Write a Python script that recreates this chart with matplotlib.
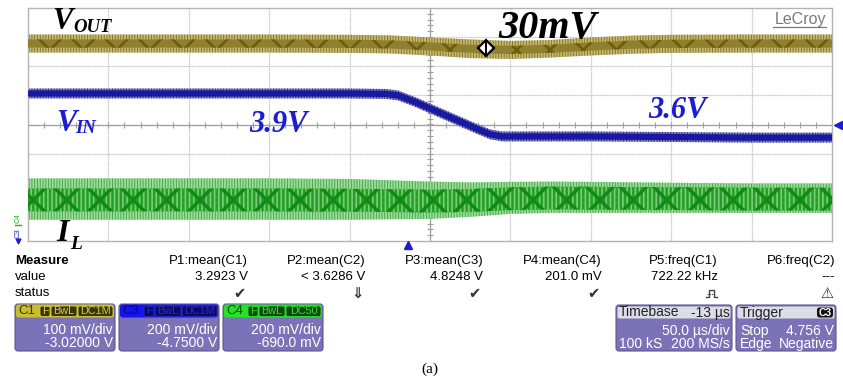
import matplotlib
matplotlib.use("Agg")
import matplotlib.pyplot as plt
from matplotlib.patches import FancyBboxPatch
import numpy as np

# ---------------- data (scope divisions: x 0..10, y -4..4) ----------------
t_vout = [0, 1, 2, 3, 4, 4.5, 5, 5.5, 6, 6.5, 7, 7.5, 8, 9, 10]
vout_hi = [3.09, 3.09, 3.09, 3.09, 3.08, 3.06, 2.99, 2.92, 2.87, 2.90, 2.99, 3.05, 3.08, 3.09, 3.09]
vout_lo = [2.47, 2.47, 2.47, 2.47, 2.46, 2.44, 2.37, 2.28, 2.25, 2.30, 2.37, 2.43, 2.46, 2.47, 2.47]

t_vin = [0, 1, 2, 3, 4, 4.45, 4.6, 4.8, 5.0, 5.2, 5.4, 5.6, 5.75, 5.9, 6, 7, 8, 9, 10]
vin_mid = [1.065, 1.065, 1.065, 1.065, 1.065, 1.05, 1.00, 0.79, 0.55, 0.31, 0.07, -0.17, -0.34,
           -0.41, -0.41, -0.41, -0.43, -0.45, -0.45]
vin_ripple = 0.17

t_il = [0, 1, 2, 3, 4, 5, 5.5, 6, 6.5, 7, 8, 9, 10]
il_hi = [-1.85, -1.85, -1.85, -1.85, -1.87, -1.96, -1.99, -1.97, -1.96, -1.97, -2.0, -2.03, -2.03]
il_lo = [-3.27, -3.27, -3.27, -3.27, -3.27, -3.24, -3.17, -3.07, -3.03, -3.03, -3.03, -3.03, -3.03]

measure_names = ["P1:mean(C1)", "P2:mean(C2)", "P3:mean(C3)", "P4:mean(C4)", "P5:freq(C1)", "P6:freq(C2)"]
measure_values = ["3.2923 V", "< 3.6286 V", "4.8248 V", "201.0 mV", "722.22 kHz", "---"]
measure_status = ["\u2714", "\u21d3", "\u2714", "\u2714", "", "\u26a0"]

channels = ["C1", "C3", "C4"]
channel_coupling = [["F", "BwL", "DC1M"], ["F", "BwL", "DC1M"], ["F", "BwL", "DC50"]]
channel_scale = ["100 mV/div", "200 mV/div", "200 mV/div"]
channel_offset = ["-3.02000 V", "-4.7500 V", "-690.0 mV"]

# ---------------- figure ----------------
W, H = 843, 381
fig = plt.figure(figsize=(W / 100, H / 100), dpi=100)
fig.patch.set_facecolor("white")

L, T, R, B = 28, 8, 832, 241
ax = fig.add_axes([L / W, 1 - B / H, (R - L) / W, (B - T) / H])
ax.set_xlim(0, 10)
ax.set_ylim(-4, 4)
ax.set_xticks([]); ax.set_yticks([])
for s in ax.spines.values():
    s.set_color("#b4b4b4"); s.set_linewidth(1.0)

# grid
for i in range(1, 10):
    ax.axvline(i, color="#cacaca", lw=0.9, ls=(0, (1.2, 0.5)), zorder=0)
for j in range(-3, 4):
    ax.axhline(j, color="#cacaca", lw=0.9, ls=(0, (1.2, 0.5)), zorder=0)
ax.axvline(5, color="#a0a0a0", lw=0.9, zorder=0.5)
ax.axhline(0, color="#a0a0a0", lw=0.9, zorder=0.5)
ax.plot(np.arange(0.2, 10, 0.2), np.zeros(49), ls="none", marker="|", ms=5, mew=0.8, color="#a0a0a0", zorder=0.5)
ax.plot(np.full(39, 5.0), np.arange(-3.8, 4, 0.2), ls="none", marker="_", ms=5, mew=0.8, color="#a0a0a0", zorder=0.5)

# VOUT
plt.rcParams["hatch.linewidth"] = 0.7
vhi, vlo = np.array(vout_hi), np.array(vout_lo)
ax.fill_between(t_vout, vhi, vlo, facecolor="#c4b978", edgecolor="#8a7a20", hatch="||||||", lw=0, zorder=2)
vmid = (vhi + vlo) / 2
plt.rcParams["hatch.linewidth"] = 2.0
ax.fill_between(t_vout, vmid + 0.14, vmid - 0.14, facecolor="#8f8030", edgecolor="#6e5e0c", hatch="x", lw=0, zorder=3)

# VIN
plt.rcParams["hatch.linewidth"] = 0.7
vm = np.array(vin_mid)
ax.fill_between(t_vin, vm + vin_ripple, vm - vin_ripple, facecolor="#8484bc", edgecolor="#30308e", hatch="||||||", lw=0, zorder=2)
ax.plot(t_vin, vm, color="#1818a0", lw=4.5, solid_capstyle="butt", zorder=3)

# IL
ihi, ilo = np.array(il_hi), np.array(il_lo)
ax.fill_between(t_il, ihi, ilo, facecolor="#9edc9e", edgecolor="#45ad45", hatch="||||||", lw=0, zorder=2)
imid = (ihi + ilo) / 2
plt.rcParams["hatch.linewidth"] = 1.2
ax.fill_between(t_il, imid + 0.36, imid - 0.42, facecolor="#23a023", edgecolor="#7ccc7c", hatch="||||", lw=0, zorder=3)
plt.rcParams["hatch.linewidth"] = 2.5
ax.fill_between(t_il, imid + 0.36, imid - 0.42, facecolor="none", edgecolor="#118a16", hatch="x", lw=0, zorder=3.5)

# ---------------- overlay in pixel coordinates ----------------
px = fig.add_axes([0, 0, 1, 1], zorder=5)
px.set_xlim(0, W); px.set_ylim(H, 0)
px.axis("off")

serif = "Liberation Serif"
def lab(x, y, s, size, color="black", ha="left", va="baseline"):
    px.text(x, y, s, fontsize=size, family=serif, weight="bold", style="italic", color=color, ha=ha, va=va)

blue_txt = "#1c1cd0"
lab(52, 29, "V", 22)
lab(73, 32, "OUT", 13.5)
lab(498, 38, "30mV", 29)
lab(56, 131, "V", 22, color=blue_txt)
lab(75, 133, "IN", 13.5, color=blue_txt)
lab(249, 132, "3.9V", 22, color=blue_txt)
lab(648, 118, "3.6V", 22, color=blue_txt)
lab(56, 241, "I", 23)
lab(70, 249, "L", 14)

px.text(826, 24, "LeCroy", fontsize=11.5, family="Liberation Sans", color="#7a7a7a", ha="right", va="baseline")
px.plot([773, 826], [26.5, 26.5], color="#7a7a7a", lw=0.9)

# cursor marker
px.plot([486], [48], marker="D", ms=8, mfc="white", mec="black", mew=1.6)
px.plot([486, 486], [42, 54], color="black", lw=1.4)

# trigger markers
px.plot([838], [124.5], marker="<", ms=6, color=blue_txt)
px.plot([408], [245], marker="^", ms=6, color=blue_txt)

# channel indicators on the left
px.text(18, 218, "C4", fontsize=5.5, family="Liberation Sans", color="#22b022", rotation=90, ha="center", va="center")
px.plot([15, 21], [225, 225], color="#22b022", lw=1)
px.text(18, 233, "C3", fontsize=5.5, family="Liberation Sans", color="#2020d0", rotation=90, ha="center", va="center")
px.plot([18], [241], marker="v", ms=3.5, color="#2020d0")

# ---------------- measure table ----------------
sans = "Liberation Sans"
fs = 9.5
px.text(15, 261, "Measure", fontsize=fs, family=sans, weight="bold", va="center")
px.text(15, 277, "value", fontsize=fs, family=sans, va="center")
px.text(15, 293.5, "status", fontsize=fs, family=sans, va="center")
col_right = [248, 365, 483, 602, 718, 835]
for xr, nm, vl, st in zip(col_right, measure_names, measure_values, measure_status):
    px.text(xr, 261, nm, fontsize=fs, family=sans, ha="right", va="center")
    px.text(xr, 277, vl, fontsize=fs, family=sans, ha="right", va="center")
    if st:
        px.text(xr - 2, 293.5, st, fontsize=10.5, family="DejaVu Sans", ha="right", va="center",
                color="#333333", weight="bold")
# pulse-width status icon (symbol not available in installed fonts)
px.plot([706, 709, 709, 714, 714, 717], [297, 297, 290, 290, 297, 297], color="#444444", lw=1.0)
px.plot([707, 716], [293.5, 293.5], color="#444444", lw=0.8, ls=(0, (1, 1)))

# ---------------- channel boxes ----------------
body_col = "#7b73b7"
hdr_cols = ["#c9be2c", "#1414ee", "#22e422"]
badge_bg = ["#3a3608", "#0a0a60", "#0c4a0c"]
badge_fg = ["#d8cc40", "#2a2ad0", "#30e030"]
box_x = [15, 119, 223]
for bx, ch, cp, sc, off, hc, bb, bf in zip(box_x, channels, channel_coupling, channel_scale, channel_offset,
                                          hdr_cols, badge_bg, badge_fg):
    w = 100
    px.add_patch(FancyBboxPatch((bx, 304), w, 47, boxstyle="round,pad=0,rounding_size=3",
                                fc=body_col, ec="#5c5690", lw=0.8))
    px.add_patch(FancyBboxPatch((bx + 1, 304.5), w - 2, 13, boxstyle="round,pad=0,rounding_size=2.5",
                                fc=hc, ec="none"))
    px.text(bx + 3, 311.5, ch, fontsize=9.5, family=sans, color=bb, va="center")
    bxs = [(bx + 25, 10), (bx + 36, 26), (bx + 63, 35)]
    for (x0, bw), label in zip(bxs, cp):
        px.add_patch(FancyBboxPatch((x0, 306), bw, 10.5, boxstyle="round,pad=0,rounding_size=2",
                                    fc=bb, ec=bf, lw=0.6))
        px.text(x0 + bw / 2, 311.5, label, fontsize=7.8, family=sans, color=bf, ha="center", va="center")
    px.text(bx + w - 2, 330, sc, fontsize=10, family=sans, color="white", ha="right", va="center")
    px.text(bx + w - 2, 343, off, fontsize=10, family=sans, color="white", ha="right", va="center")

# timebase box
px.add_patch(FancyBboxPatch((616, 305), 116, 46, boxstyle="round,pad=0,rounding_size=3",
                            fc=body_col, ec="#5c5690", lw=0.8))
px.add_patch(FancyBboxPatch((617.5, 306.5), 113, 12, boxstyle="round,pad=0,rounding_size=2",
                            fc="#dedde6", ec="none"))
px.text(619, 312.5, "Timebase", fontsize=10, family=sans, color="#222222", va="center")
px.text(730, 312.5, "-13 \u00b5s", fontsize=10, family=sans, color="#222222", ha="right", va="center")
px.text(730, 331, "50.0 \u00b5s/div", fontsize=10, family=sans, color="white", ha="right", va="center")
px.text(619, 344, "100 kS", fontsize=10, family=sans, color="white", va="center")
px.text(730, 344, "200 MS/s", fontsize=10, family=sans, color="white", ha="right", va="center")

# trigger box
px.add_patch(FancyBboxPatch((736, 305), 100, 46, boxstyle="round,pad=0,rounding_size=3",
                            fc=body_col, ec="#5c5690", lw=0.8))
px.add_patch(FancyBboxPatch((737.5, 306.5), 97, 12, boxstyle="round,pad=0,rounding_size=2",
                            fc="#dedde6", ec="none"))
px.text(740, 312.5, "Trigger", fontsize=10, family=sans, color="#222222", va="center")
px.add_patch(FancyBboxPatch((817, 307.5), 16, 10, boxstyle="round,pad=0,rounding_size=2.5",
                            fc="#111111", ec="none"))
px.text(825, 312.5, "C3", fontsize=7.5, family=sans, color="white", ha="center", va="center", weight="bold")
px.text(740, 331, "Stop", fontsize=10, family=sans, color="white", va="center")
px.text(834, 331, "4.756 V", fontsize=10, family=sans, color="white", ha="right", va="center")
px.text(740, 344, "Edge", fontsize=10, family=sans, color="white", va="center")
px.text(834, 344, "Negative", fontsize=10, family=sans, color="white", ha="right", va="center")

px.text(430, 369, "(a)", fontsize=11, family=serif, ha="center", va="center")

fig.savefig("out.png", dpi=100, facecolor="white")
